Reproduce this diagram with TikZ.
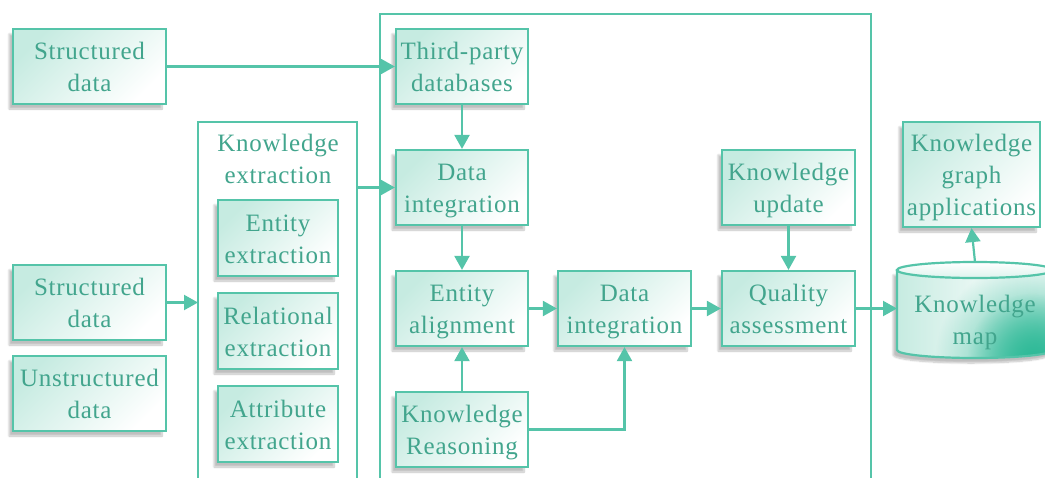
\documentclass[tikz,border=0pt]{standalone}
\usepackage{fontspec}
\newfontfamily\kgfont[LetterSpace=3]{Liberation Serif}
\usetikzlibrary{arrows.meta,shadows.blur,fadings}
\definecolor{tealc}{HTML}{55C4A9}
\definecolor{tealtext}{HTML}{42A58D}
\definecolor{tealfill}{HTML}{C6EBE1}
\definecolor{tealdark}{HTML}{2FBA98}
\tikzfading[name=kgfade, inner color=transparent!0, outer color=transparent!100]
\newcommand\kgtop{\rule{0pt}{24.5pt}}
\newcommand\kgbot{\rule[-6pt]{0pt}{6pt}}
\tikzset{
  lbl/.style={text=tealtext, align=center, font={\kgfont\fontsize{25}{32}\selectfont}, inner sep=0pt,
    execute at end node=\kgbot},
  box/.style={lbl, draw=tealc, line width=2.2pt, top color=tealfill, bottom color=white,
    shading angle=45,
    blur shadow={shadow xshift=-4pt, shadow yshift=-5pt, shadow blur steps=8, shadow opacity=25}},
  conn/.style={draw=tealc, line width=2.2pt, -{Triangle[length=14pt,width=15pt]}},
  frame/.style={draw=tealc, line width=2.2pt}
}
\begin{document}
\begin{tikzpicture}[x=1pt,y=-1pt]
\useasboundingbox (0,0) rectangle (1045,477);
% containers
\draw[frame] (380,480) -- (380,14) -- (871,14) -- (871,480);
\draw[frame] (198,480) -- (198,122) -- (357,122) -- (357,480);
\node[lbl] (ket) at (278,158) {\kgtop Knowledge\\extraction};
\coordinate (keE) at (357,187.5);
\coordinate (keW) at (198,302.5);
% left boxes
\node[box, minimum width=153pt, minimum height=75pt] (sd1) at (89.5,66.5) {\kgtop Structured\\data};
\node[box, minimum width=153pt, minimum height=75pt] (sd2) at (89.5,302.5) {\kgtop Structured\\data};
\node[box, minimum width=153pt, minimum height=75pt] (ud) at (89.5,393.5) {\kgtop Unstructured\\data};
% extraction
\node[box, minimum width=120pt, minimum height=76pt] (ee) at (278,238) {\kgtop Entity\\extraction};
\node[box, minimum width=120pt, minimum height=76pt] (re) at (278,331) {\kgtop Relational\\extraction};
\node[box, minimum width=120pt, minimum height=76pt] (ae) at (278,424) {\kgtop Attribute\\extraction};
% middle
\node[box, minimum width=132pt, minimum height=75pt] (tp) at (462,66.5) {\kgtop Third-party\\databases};
\node[box, minimum width=132pt, minimum height=75pt] (di1) at (462,187.5) {\kgtop Data\\integration};
\node[box, minimum width=132pt, minimum height=75pt] (ea) at (462,308.5) {\kgtop Entity\\alignment};
\node[box, minimum width=132pt, minimum height=75pt] (kr) at (462,429.5) {\kgtop Knowledge\\Reasoning};
\node[box, minimum width=133pt, minimum height=75pt] (di2) at (624.5,308.5) {\kgtop Data\\integration};
\node[box, minimum width=133pt, minimum height=75pt] (ku) at (788.5,187.5) {\kgtop Knowledge\\update};
\node[box, minimum width=133pt, minimum height=75pt] (qa) at (788.5,308.5) {\kgtop Quality\\assessment};
\node[box, minimum width=137pt, minimum height=105pt] (kga) at (971.5,174.5) {\kgtop Knowledge\\graph\\applications};
% cylinder
\begin{scope}
\path[blur shadow={shadow xshift=-4pt, shadow yshift=-5pt, shadow blur steps=8, shadow opacity=25}]
  (897,270) -- (897,350) .. controls (897,354.4) and (931.9,358) .. (975,358)
  .. controls (1018.1,358) and (1053,354.4) .. (1053,350) -- (1053,270) -- cycle;
\fill[left color=tealfill, right color=white, middle color=white!60!tealfill]
  (897,270) -- (897,350) .. controls (897,354.4) and (931.9,358) .. (975,358)
  .. controls (1018.1,358) and (1053,354.4) .. (1053,350) -- (1053,270) -- cycle;
\clip (897,270) -- (897,350) .. controls (897,354.4) and (931.9,358) .. (975,358)
  .. controls (1018.1,358) and (1053,354.4) .. (1053,350) -- (1053,270) -- cycle;
\fill[tealdark, path fading=kgfade] (1040,362) circle (105pt);
\fill[tealdark, path fading=kgfade] (1032,358) circle (65pt);
\end{scope}
\draw[frame]
  (897,270) -- (897,350) .. controls (897,354.4) and (931.9,358) .. (975,358)
  .. controls (1018.1,358) and (1053,354.4) .. (1053,350) -- (1053,270);
\draw[frame, top color=white, bottom color=tealfill!60] (975,270) ellipse [x radius=78, y radius=8];
\node[lbl] (km) at (975,319) {\kgtop Knowledge\\map};
\coordinate (kmW) at (897,308.5);
\coordinate (kmN) at (975,262);
% connectors
\draw[conn] (sd1.east) -- (tp.west);
\draw[conn] (keE) -- (di1.west);
\draw[conn] (sd2.east) -- (keW);
\draw[conn] (tp.south) -- (di1.north);
\draw[conn] (di1.south) -- (ea.north);
\draw[conn] (kr.north) -- (ea.south);
\draw[conn] (kr.east) -| (di2.south);
\draw[conn] (ea.east) -- (di2.west);
\draw[conn] (di2.east) -- (qa.west);
\draw[conn] (ku.south) -- (qa.north);
\draw[conn] (qa.east) -- (kmW);
\draw[conn] (kmN) -- (kga.south);
\end{tikzpicture}
\end{document}
